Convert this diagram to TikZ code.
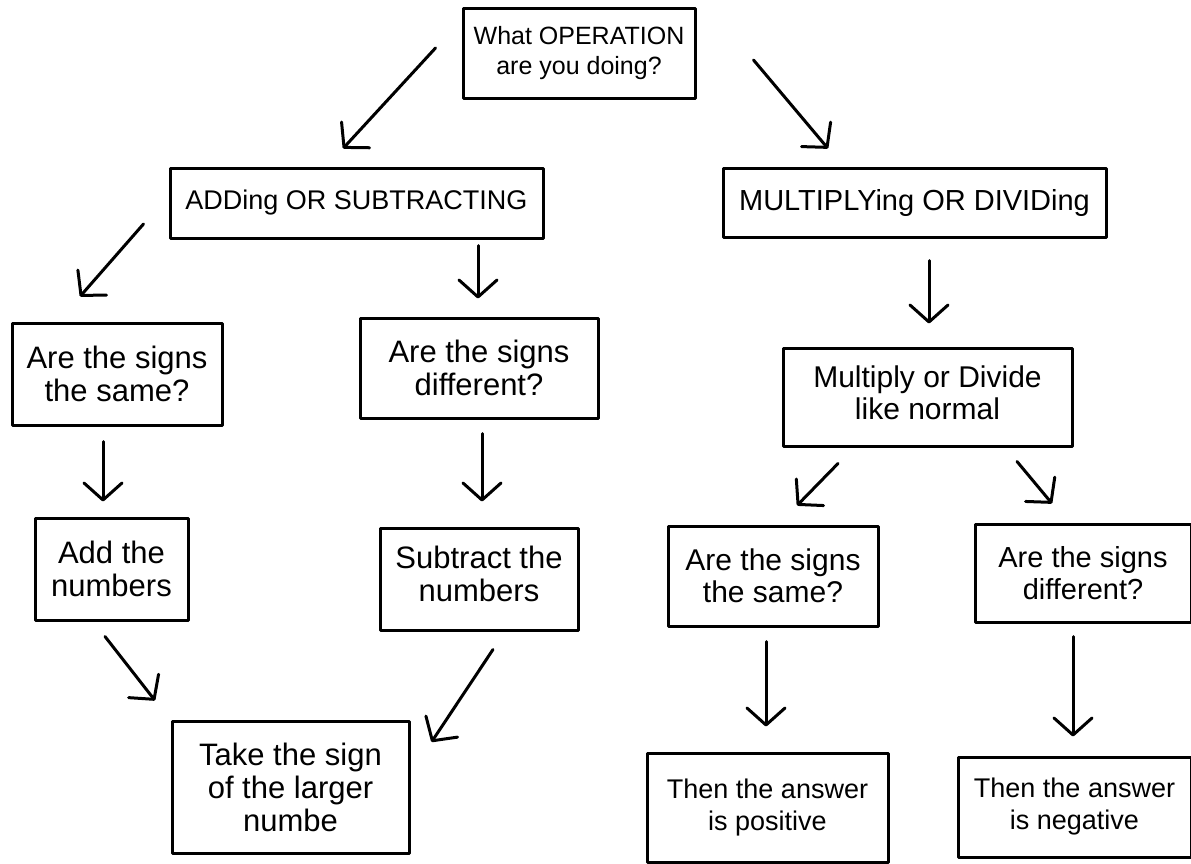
\documentclass[tikz,border=0pt]{standalone}
\usepackage{fontspec}
\setmainfont{Liberation Sans}
\usetikzlibrary{arrows.meta,calc}
\begin{document}
\begin{tikzpicture}[x=1pt,y=-1pt,
  box/.style={draw=black, line width=3pt, align=center, inner sep=0pt, line join=round},
  bodyfont/.style={font=\fontsize{31}{33}\selectfont},
  smallbody/.style={font=\fontsize{27}{32}\selectfont},
  headfont/.style={font=\fontsize{25}{30}\selectfont},
  arr/.style={line width=3pt, line cap=round, line join=round,
    -{Straight Barb[length=17pt,width=38pt,line width=3pt,round]}}]
\useasboundingbox (0,0) rectangle (1191,863);
% boxes
\node[box,headfont,minimum width=232pt,minimum height=90pt] (top) at (579,53) {What OPERATION\\are you doing?};
\node[box,font=\fontsize{27}{30}\selectfont,minimum width=373pt,minimum height=70pt] (adds) at (356.5,203) {ADDing OR SUBTRACTING};
\node[box,font=\fontsize{29}{30}\selectfont,minimum width=383pt,minimum height=69pt] (muls) at (914.5,202.5) {MULTIPLYing OR DIVIDing};
\node[box,bodyfont,minimum width=210pt,minimum height=102pt] (sameL) at (117,374) {Are the signs\\the same?};
\node[box,bodyfont,minimum width=238pt,minimum height=100pt] (diffL) at (479,368) {Are the signs\\different?};
\node[box,font=\fontsize{30}{32}\selectfont,minimum width=289pt,minimum height=98pt] (mulnorm) at (927.5,397) {Multiply or Divide\\like normal\strut};
\node[box,bodyfont,minimum width=153pt,minimum height=102pt] (addnum) at (111.5,569) {Add the\\numbers};
\node[box,bodyfont,minimum width=198pt,minimum height=102pt] (subnum) at (479,579) {Subtract the\\numbers\strut};
\node[box,font=\fontsize{30}{32}\selectfont,minimum width=210pt,minimum height=100pt] (sameR) at (773,576) {Are the signs\\the same?};
\node[box,font=\fontsize{29}{32}\selectfont,minimum width=216pt,minimum height=98pt] (diffR) at (1083,573) {Are the signs\\different?};
\node[box,bodyfont,minimum width=237pt,minimum height=132pt] (take) at (290.5,787) {Take the sign\\of the larger\\numbe};
\node[box,smallbody,minimum width=241pt,minimum height=109pt] (pos) at (767.5,807.5) {Then the answer\\is positive};
\node[box,smallbody,minimum width=233pt,minimum height=100pt] (neg) at (1074.5,807) {Then the answer\\is negative};
% arrows
\draw[arr] ($(top.west)+(-26,-5)$) -- ($(adds.north)+(-13.5,-18)$);
\draw[arr] ($(top.east)+(57,7)$) -- ($(muls.north)+(-86.5,-18)$);
\draw[arr] ($(adds.west)+(-25,21)$) -- ($(sameL.north)+(-37,-25)$);
\draw[arr] ($(diffL.north)+(-1,-71)$) -- ($(diffL.north)+(-1,-18)$);
\draw[arr] ($(mulnorm.north)+(1.5,-86)$) -- ($(mulnorm.north)+(1.5,-23)$);
\draw[arr] ($(sameL.south)+(-14,15)$) -- ($(addnum.north)+(-8.5,-15)$);
\draw[arr] ($(diffL.south)+(3,14)$) -- ($(subnum.north)+(3,-25)$);
\draw[arr] ($(mulnorm.south)+(-89.5,16)$) -- ($(sameR.north)+(24,-19)$);
\draw[arr] ($(mulnorm.south)+(89.5,14)$) -- ($(diffR.north)+(-31,-19)$);
\draw[arr] ($(addnum.south)+(-6.5,15)$) -- ($(take.north)+(-135.5,-19)$);
\draw[arr] ($(subnum.south)+(14,18)$) -- ($(take.east)+(21,-45)$);
\draw[arr] ($(sameR.south)+(-7,14)$) -- ($(pos.north)+(-1.5,-25)$);
\draw[arr] ($(diffR.south)+(-10,13)$) -- ($(neg.north)+(-1.5,-19)$);
\end{tikzpicture}
\end{document}
